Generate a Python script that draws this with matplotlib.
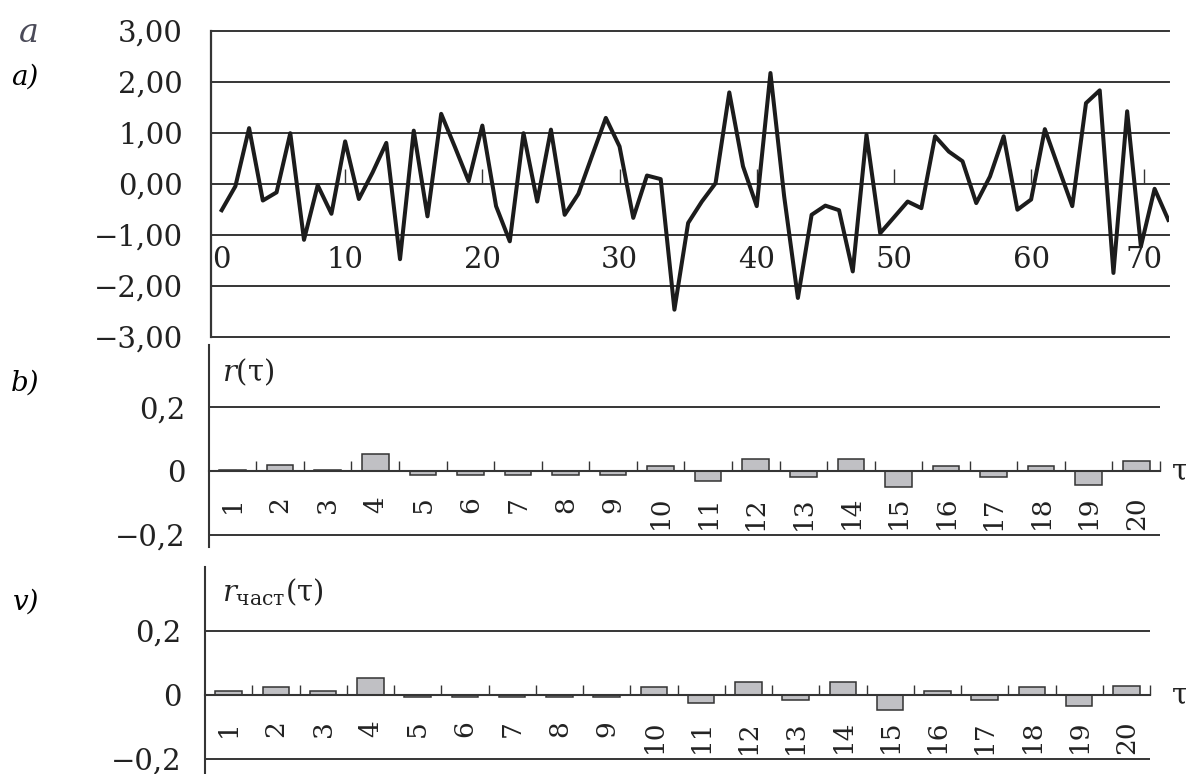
import numpy as np
import matplotlib.pyplot as plt

plt.rcParams['font.family'] = ['DejaVu Serif']
plt.rcParams['mathtext.fontset'] = 'custom'
plt.rcParams['mathtext.rm'] = 'DejaVu Serif'
plt.rcParams['mathtext.it'] = 'DejaVu Serif:italic'

# %% ------------------------------------------------------------------
# data

# panel a) - the time series (70 points)
series = [-0.52, -0.05, 1.09, -0.33, -0.17, 0.99, -1.10, -0.03, -0.59, 0.83,
          -0.30, 0.22, 0.80, -1.48, 1.04, -0.64, 1.37, 0.72, 0.05, 1.14,
          -0.44, -1.13, 0.99, -0.35, 1.06, -0.61, -0.20, 0.55, 1.29, 0.73,
          -0.67, 0.16, 0.09, -2.47, -0.77, -0.35, 0.01, 1.79, 0.34, -0.44,
          2.17, -0.25, -2.24, -0.61, -0.43, -0.52, -1.72, 0.96, -0.97, -0.66,
          -0.35, -0.48, 0.93, 0.63, 0.44, -0.38, 0.14, 0.93, -0.51, -0.31,
          1.07, 0.31, -0.44, 1.58, 1.83, -1.75, 1.42, -1.23, -0.10, -0.71]
a_tick_pos = [1, 10, 20, 30, 40, 50, 60, 68.2]
a_tick_lab = ['0', '10', '20', '30', '40', '50', '60', '70']
a_yticks = [-3, -2, -1, 0, 1, 2, 3]
a_ylabels = ['\u22123,00', '\u22122,00', '\u22121,00', '0,00', '1,00', '2,00', '3,00']

# panels b) and v) - autocorrelation and partial autocorrelation
lags = np.arange(1, 21)
acf = [0.004, 0.018, 0.003, 0.053, -0.013, -0.013, -0.013, -0.013, -0.013, 0.017,
       -0.032, 0.037, -0.019, 0.037, -0.049, 0.017, -0.019, 0.017, -0.043, 0.030]
pacf = [0.013, 0.025, 0.011, 0.054, -0.005, -0.005, -0.005, -0.005, -0.005, 0.024,
        -0.024, 0.040, -0.016, 0.041, -0.047, 0.011, -0.016, 0.024, -0.035, 0.029]
r_yticks = [-0.2, 0, 0.2]
r_ylabels = ['\u22120,2', '0', '0,2']

# %% ------------------------------------------------------------------
W, H = 1186, 774
fig = plt.figure(figsize=(W / 100, H / 100), dpi=100)
lc = '#353535'
tc = '#222222'
fs = 21


def px_axes(l, t, r, b):
    ax = fig.add_axes([l / W, 1 - b / H, (r - l) / W, (b - t) / H])
    ax.patch.set_visible(False)
    return ax


# ---------------- panel a
ax = px_axes(210.7, 30.7, 1169, 336.7)
t = np.arange(1, len(series) + 1)
ax.plot(t, series, color='#1c1c1c', lw=2.9, zorder=3)
ax.set_xlim(0.2, 70.05)
ax.set_ylim(-3, 3)
for y in a_yticks:
    ax.axhline(y, color=lc, lw=1.4, zorder=1, clip_on=False)
for s in ['top', 'bottom', 'right']:
    ax.spines[s].set_visible(False)
ax.spines['left'].set_color(lc)
ax.spines['left'].set_linewidth(1.6)
ax.set_xticks([])
ax.set_yticks(a_yticks, a_ylabels)
ax.tick_params(axis='y', length=0, pad=20, labelsize=fs, labelcolor=tc)
ax.vlines(a_tick_pos[1:], 0, 0.28, color=lc, lw=1, zorder=2)
for x, s in zip(a_tick_pos, a_tick_lab):
    ax.text(x, -1.5, s, ha='center', va='center', fontsize=fs, color=tc)


# ---------------- panels b and v
def corr_panel(l, t, r, b, vals, ylim, title, ty):
    axr = px_axes(l, t, r, b)
    axr.bar(lags, vals, width=0.56, color='#c0c0c4', edgecolor='#333333',
            lw=1.1, zorder=2)
    axr.set_xlim(0.5, 20.5)
    axr.set_ylim(*ylim)
    axr.spines['bottom'].set_position(('data', 0))
    for s in ['top', 'right']:
        axr.spines[s].set_visible(False)
    for s in ['left', 'bottom']:
        axr.spines[s].set_color(lc)
        axr.spines[s].set_linewidth(1.5)
    for y in [0.2, -0.2]:
        axr.axhline(y, color=lc, lw=1.4, zorder=1)
    axr.set_xticks(lags, [str(k) for k in lags], rotation=90)
    axr.set_xticks(lags + 0.5, minor=True)
    axr.tick_params(axis='x', which='major', length=0, pad=18,
                    labelsize=19, labelcolor=tc)
    axr.tick_params(axis='x', which='minor', direction='in', length=7,
                    width=1, color=lc)
    axr.set_yticks(r_yticks, r_ylabels)
    axr.tick_params(axis='y', length=0, pad=17, labelsize=fs, labelcolor=tc)
    fig.text(222 / W, 1 - ty / H, title, fontsize=fs, color=tc,
             ha='left', va='center')
    zero_px = b - (0 - ylim[0]) / (ylim[1] - ylim[0]) * (b - t)
    fig.text(1172 / W, 1 - zero_px / H, '\u03c4', fontsize=fs, color=tc,
             ha='left', va='center')
    return axr


corr_panel(208.8, 345, 1160, 547, acf, (-0.239, 0.396), '$r$(τ)', 372)
corr_panel(205, 567, 1150, 774, pacf, (-0.247, 0.40),
           '$r_{\\mathrm{част}}$(τ)', 592)

# ---------------- panel letters
fig.text(19 / W, 1 - 33 / H, 'a', fontsize=24, style='italic', color='#4a4a58',
         ha='left', va='center')
fig.text(11 / W, 1 - 77 / H, 'a)', fontsize=20, style='italic', color='black',
         ha='left', va='center')
fig.text(11 / W, 1 - 383 / H, 'b)', fontsize=20, style='italic', color='black',
         ha='left', va='center')
fig.text(13 / W, 1 - 602 / H, 'v)', fontsize=20, style='italic', color='black',
         ha='left', va='center')

fig.savefig('out.png', dpi=100)
